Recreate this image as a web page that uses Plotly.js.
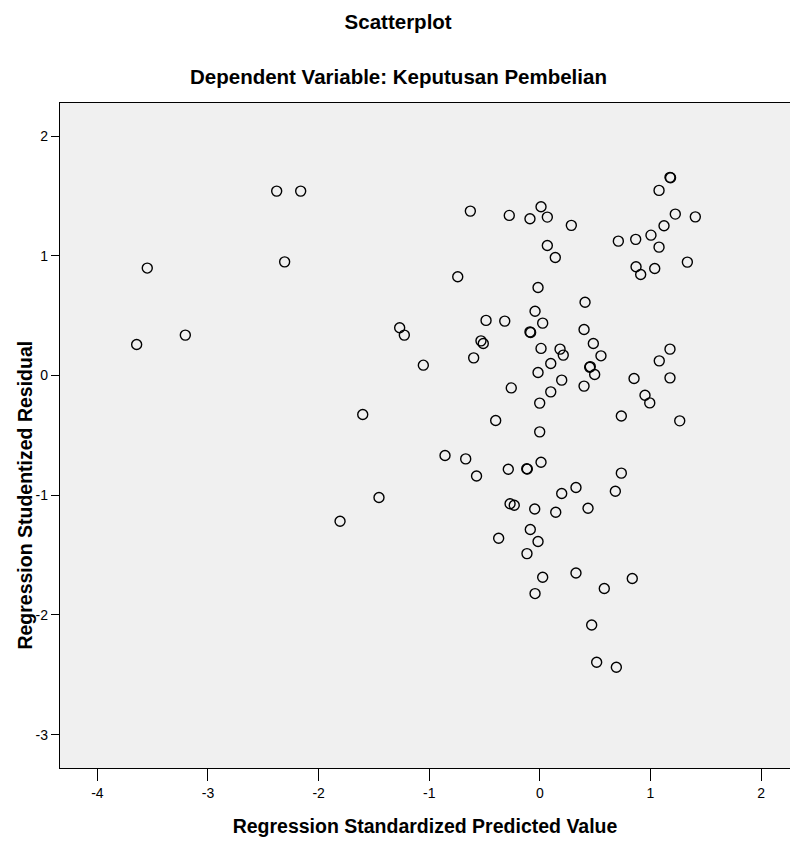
<!DOCTYPE html>
<html>
<head>
<meta charset="utf-8">
<script src="https://cdn.plot.ly/plotly-3.0.1.min.js"></script>
<style>html,body{margin:0;padding:0;background:#fff;}#chart{width:790px;height:841px;}</style>
</head>
<body>
<div id="chart"></div>
<script>
// Regression Standardized Predicted Value
var predicted = [
  -2.379, -2.162, -2.307, -3.549, -3.205, -3.645, -1.267, -1.225, -1.053, -1.601,
  -1.454, -1.806, -0.857, -0.670, -0.572, -0.742, -0.598, -0.486, -0.532, -0.511,
  -0.399, -0.317, -0.258, -0.285, -0.118, -0.113, -0.089, -0.083, -0.043, -0.016,
   0.026,  0.011,  0.099, -0.016,  0.099, -0.001, -0.001,  0.011, -0.269, -0.231,
  -0.046, -0.628, -0.276, -0.089,  0.011,  0.068,  0.285,  0.068,  0.140,  0.409,
   0.400,  0.484,  0.183,  0.212,  0.553,  0.451,  0.456,  0.496,  0.198,  0.400,
   1.177,  1.080,  0.852,  1.177,  0.951,  0.994,  0.737,  1.265,  0.737,  0.198,
   0.327,  0.683,  0.144,  0.436, -0.086, -0.372, -0.016, -0.116,  0.026,  0.327,
   0.836,  0.583, -0.043,  0.469,  0.514,  0.692,  1.177,  1.182,  1.078,  1.225,
   1.406,  1.123,  0.710,  0.867,  1.005,  1.078,  0.870,  0.912,  1.039,  1.334
];
// Regression Studentized Residual
var residual = [
   1.540,  1.540,  0.949,  0.897,  0.337,  0.259,  0.398,  0.337,  0.086, -0.326,
  -1.020, -1.218, -0.669, -0.697, -0.840,  0.824,  0.147,  0.460,  0.289,  0.267,
  -0.376,  0.454, -0.104, -0.783, -0.779, -0.782,  0.364,  0.359,  0.537,  0.735,
   0.437,  0.226,  0.100,  0.025, -0.137, -0.231, -0.471, -0.725, -1.071, -1.084,
  -1.115,  1.373,  1.337,  1.309,  1.409,  1.323,  1.254,  1.086,  0.986,  0.611,
   0.384,  0.267,  0.220,  0.170,  0.164,  0.069,  0.074,  0.008, -0.039, -0.089,
   0.220,  0.122, -0.025, -0.020, -0.165, -0.229, -0.338, -0.379, -0.816, -0.986,
  -0.936, -0.967, -1.142, -1.109, -1.287, -1.360, -1.387, -1.488, -1.686, -1.650,
  -1.696, -1.780, -1.822, -2.084, -2.396, -2.438,  1.655,  1.651,  1.546,  1.348,
   1.325,  1.250,  1.122,  1.137,  1.172,  1.072,  0.908,  0.844,  0.894,  0.947
];
var xTicks = [-4, -3, -2, -1, 0, 1, 2];
var yTicks = [-3, -2, -1, 0, 1, 2];

var FONT = 'Liberation Sans, Arial, sans-serif';

var trace = {
  type: 'scatter',
  mode: 'markers',
  x: predicted,
  y: residual,
  marker: {symbol: 'circle-open', size: 10, color: '#000', line: {width: 1.4, color: '#000'}},
  hoverinfo: 'x+y',
  showlegend: false
};

var layout = {
  width: 790,
  height: 841,
  margin: {l: 60, r: 0, t: 103, b: 73, pad: 0},
  paper_bgcolor: '#ffffff',
  plot_bgcolor: '#f0f0f0',
  font: {family: FONT, color: '#000'},
  title: {
    text: '<b>Scatterplot</b>',
    font: {family: FONT, size: 20.5, color: '#000'},
    x: 0.504, xref: 'container', xanchor: 'center',
    y: 1 - 22 / 841, yref: 'container', yanchor: 'middle'
  },
  annotations: [{
    text: '<b>Dependent Variable: Keputusan Pembelian</b>',
    xref: 'paper', yref: 'paper',
    x: (398 - 60) / 730, xanchor: 'center',
    y: (767.7 - 77) / 664.7, yanchor: 'middle',
    showarrow: false,
    font: {family: FONT, size: 20.5, color: '#000'}
  }, {
    text: '<b>Regression Studentized Residual</b>',
    xref: 'paper', yref: 'paper',
    x: (25 - 60) / 730, xanchor: 'center',
    y: (767.7 - 339) / 664.7, yanchor: 'top',
    textangle: -90,
    showarrow: false,
    font: {family: FONT, size: 19.5, color: '#000'}
  }],
  xaxis: {
    range: [-4.338, 2.262],
    tickvals: xTicks,
    ticktext: xTicks.map(String),
    ticks: 'outside', ticklen: 12, tickwidth: 1.3, tickcolor: '#000',
    tickfont: {family: FONT, size: 14, color: '#000'},
    showgrid: false, zeroline: false,
    showline: true, linecolor: '#000', linewidth: 1.3, mirror: true,
    title: {text: '<b>Regression Standardized Predicted Value</b>', font: {family: FONT, size: 19.5, color: '#000'}, standoff: 19}
  },
  yaxis: {
    range: [-3.279, 2.276],
    tickvals: yTicks,
    ticktext: yTicks.map(String),
    ticks: 'outside', ticklen: 8, tickwidth: 1.3, tickcolor: '#000',
    tickfont: {family: FONT, size: 14, color: '#000'},
    showgrid: false, zeroline: false,
    showline: true, linecolor: '#000', linewidth: 1.3, mirror: false,
    title: {text: ''}
  }
};

Plotly.newPlot('chart', [trace], layout, {displayModeBar: false, responsive: false});
</script>
</body>
</html>
